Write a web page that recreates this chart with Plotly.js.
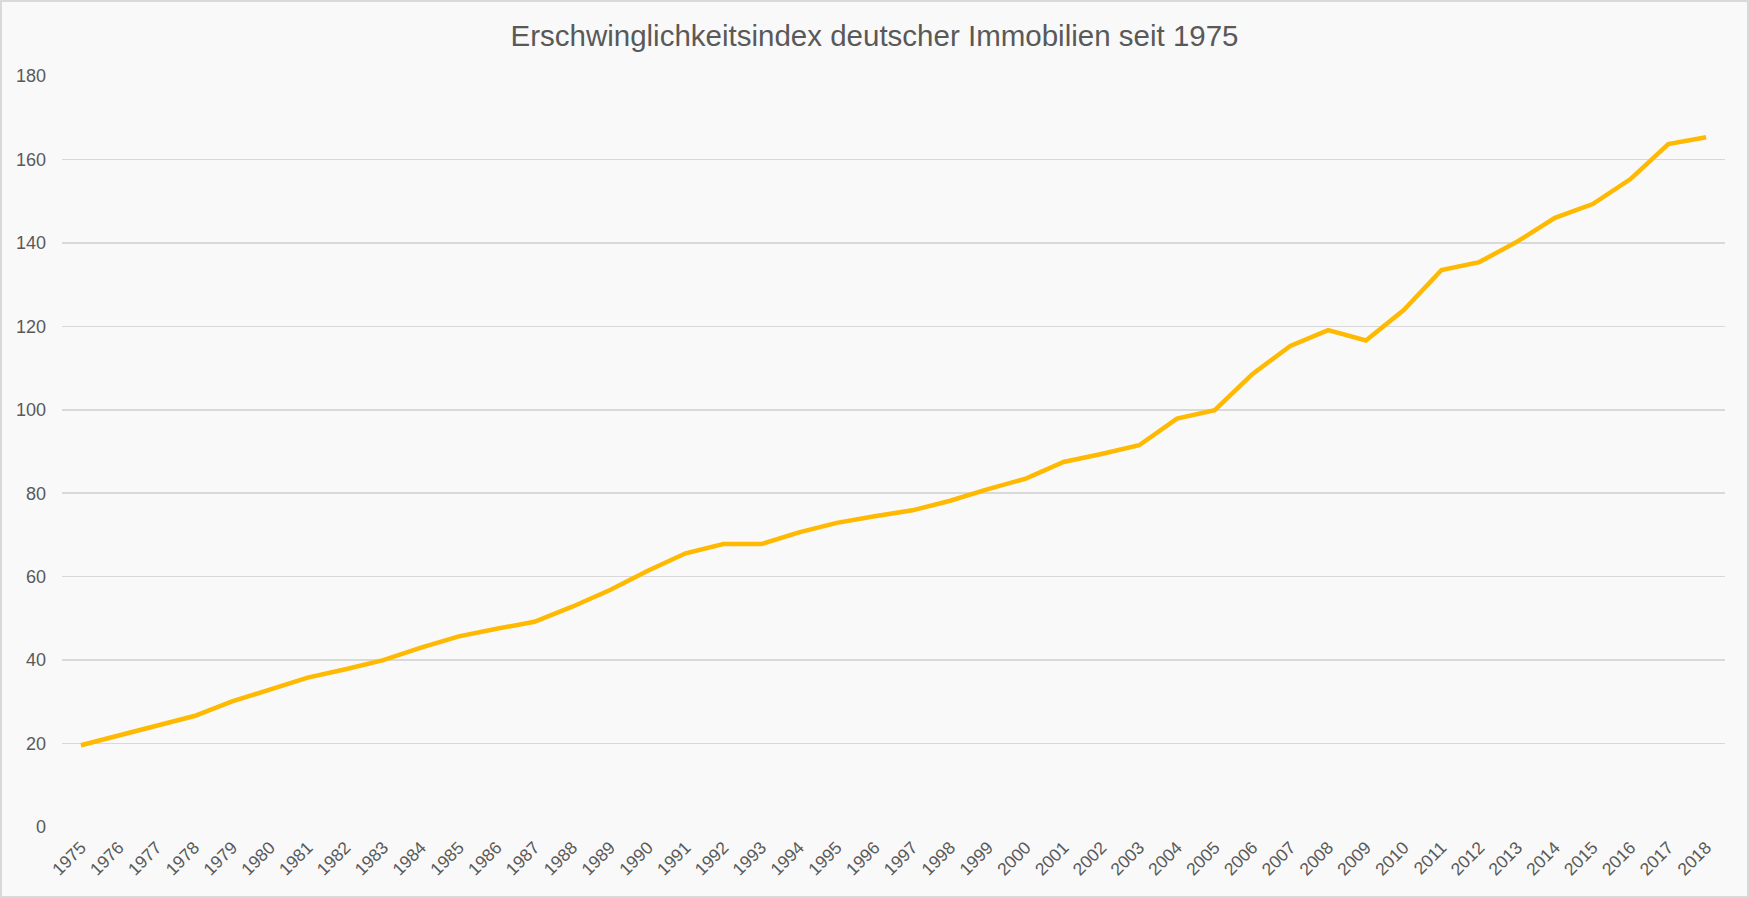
<!DOCTYPE html>
<html>
<head>
<meta charset="utf-8">
<script src="https://cdn.plot.ly/plotly-3.0.1.min.js"></script>
<style>
  html, body { margin: 0; padding: 0; background: #f9f9f9; }
  #wrap { position: relative; width: 1749px; height: 898px; }
  #chart { width: 1749px; height: 898px; }
  #frame { position: absolute; left: 0; top: 0; width: 1745px; height: 894px; border: 2px solid #d9d9d9; pointer-events: none; }
</style>
</head>
<body>
<div id="wrap"><div id="chart"></div><div id="frame"></div></div>
<script>
const years = ["1975","1976","1977","1978","1979","1980","1981","1982","1983","1984","1985","1986","1987","1988","1989","1990","1991","1992","1993","1994","1995","1996","1997","1998","1999","2000","2001","2002","2003","2004","2005","2006","2007","2008","2009","2010","2011","2012","2013","2014","2015","2016","2017","2018"];
const indexValues = [19.6,22.0,24.3,26.6,30.1,33.0,35.8,37.8,40.0,43.0,45.7,47.5,49.2,52.8,56.8,61.4,65.6,67.8,67.8,70.6,72.9,74.5,75.9,78.2,81.0,83.5,87.5,89.4,91.5,97.9,99.9,108.6,115.3,119.1,116.6,123.9,133.5,135.4,140.3,146.0,149.3,155.3,163.7,165.3];
const yTicks = [0,20,40,60,80,100,120,140,160,180];
const chartTitle = "Erschwinglichkeitsindex deutscher Immobilien seit 1975";

const trace = {
  x: years,
  y: indexValues,
  type: "scatter",
  mode: "lines",
  line: { color: "#FFB900", width: 4.5 },
  hoverinfo: "x+y"
};

const layout = {
  width: 1749,
  height: 898,
  paper_bgcolor: "#f9f9f9",
  plot_bgcolor: "#f9f9f9",
  margin: { l: 62, r: 24, t: 76, b: 71 },
  showlegend: false,
  font: { family: "Liberation Sans, Arial, sans-serif", color: "#595959" },
  title: {
    text: chartTitle,
    font: { size: 29.5, color: "#595959", family: "Liberation Sans, Arial, sans-serif" },
    x: 0.5, xanchor: "center", xref: "container",
    y: 1 - 36 / 898, yanchor: "middle", yref: "container"
  },
  xaxis: {
    type: "category",
    range: [-0.5, years.length - 0.5],
    showgrid: false,
    zeroline: false,
    showline: false,
    ticks: "",
    tickangle: -45,
    tickfont: { size: 17.5, color: "#595959" },
    ticklabelstandoff: 6,
    fixedrange: true
  },
  yaxis: {
    range: [0, 180],
    tickvals: yTicks,
    showgrid: true,
    gridcolor: "#d9d9d9",
    gridwidth: 1.5,
    zeroline: false,
    showline: false,
    ticks: "",
    tickfont: { size: 18, color: "#595959" },
    ticklabelstandoff: 15,
    fixedrange: true
  }
};

Plotly.newPlot("chart", [trace], layout, { displayModeBar: false, staticPlot: true });
</script>
</body>
</html>
